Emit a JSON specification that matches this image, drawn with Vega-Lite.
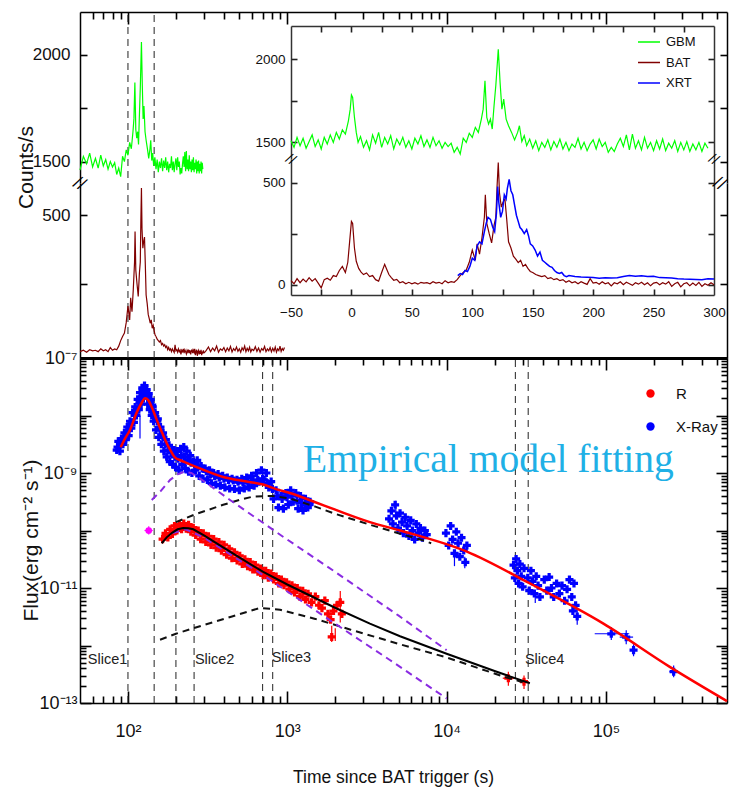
{
"$schema": "https://vega.github.io/schema/vega-lite/v6.json",
"width": 729, "height": 789,
"autosize": {"type": "none"},
"padding": 0,
"background": "white",
"config": {
  "view": {"stroke": null},
  "axis": {"grid": false, "domainColor": "#000", "tickColor": "#000", "tickOpacity": 1, "labelColor": "#111", "titleColor": "#111",
    "labelFont": "Liberation Sans, Arial, sans-serif", "titleFont": "Liberation Sans, Arial, sans-serif",
    "labelFontSize": 17, "titleFontSize": 20, "titleFontWeight": "normal", "labelOverlap": false, "labelFlush": false, "labelBound": false, "tickWidth": 1.6, "domainWidth": 1.5},
  "legend": {"labelFont": "Liberation Sans, Arial, sans-serif", "labelColor": "#111", "padding": 0}
},
"datasets": {
 "gbm": [{"t":-50,"c":1510},{"t":-47.5,"c":1470},{"t":-45,"c":1530},{"t":-42.5,"c":1480},{"t":-40,"c":1525},{"t":-37.5,"c":1465},{"t":-35,"c":1505},{"t":-32.5,"c":1545},{"t":-30,"c":1475},{"t":-27.5,"c":1515},{"t":-25,"c":1460},{"t":-22.5,"c":1530},{"t":-20,"c":1490},{"t":-17.5,"c":1545},{"t":-15,"c":1500},{"t":-12.5,"c":1560},{"t":-10,"c":1520},{"t":-7.5,"c":1575},{"t":-5,"c":1550},{"t":-2.5,"c":1630},{"t":-1,"c":1700},{"t":0,"c":1785},{"t":1,"c":1770},{"t":2.5,"c":1650},{"t":4,"c":1560},{"t":5.5,"c":1500},{"t":7.5,"c":1535},{"t":10,"c":1470},{"t":12.5,"c":1510},{"t":15,"c":1455},{"t":17.5,"c":1545},{"t":20,"c":1495},{"t":22.5,"c":1560},{"t":25,"c":1470},{"t":27.5,"c":1530},{"t":30,"c":1490},{"t":32.5,"c":1540},{"t":35,"c":1460},{"t":37.5,"c":1520},{"t":40,"c":1485},{"t":42.5,"c":1530},{"t":45,"c":1470},{"t":47.5,"c":1510},{"t":50,"c":1460},{"t":52.5,"c":1525},{"t":55,"c":1490},{"t":57.5,"c":1540},{"t":60,"c":1475},{"t":62.5,"c":1515},{"t":65,"c":1470},{"t":67.5,"c":1530},{"t":70,"c":1480},{"t":72.5,"c":1510},{"t":75,"c":1465},{"t":77.5,"c":1500},{"t":80,"c":1475},{"t":82.5,"c":1495},{"t":85,"c":1440},{"t":87.5,"c":1470},{"t":90,"c":1430},{"t":92.5,"c":1525},{"t":95,"c":1500},{"t":97.5,"c":1555},{"t":100,"c":1530},{"t":102.5,"c":1590},{"t":105,"c":1560},{"t":107.5,"c":1640},{"t":109,"c":1700},{"t":110.5,"c":1870},{"t":112,"c":1650},{"t":113.5,"c":1610},{"t":115,"c":1640},{"t":116.5,"c":1580},{"t":118,"c":1720},{"t":119.5,"c":1845},{"t":121.5,"c":2060},{"t":123,"c":1860},{"t":124.5,"c":1700},{"t":126,"c":1760},{"t":128,"c":1640},{"t":130,"c":1600},{"t":132.5,"c":1560},{"t":135,"c":1515},{"t":137.5,"c":1560},{"t":139,"c":1600},{"t":141,"c":1505},{"t":143,"c":1540},{"t":145,"c":1480},{"t":147.5,"c":1520},{"t":150,"c":1465},{"t":152.5,"c":1510},{"t":155,"c":1450},{"t":157.5,"c":1500},{"t":160,"c":1470},{"t":162.5,"c":1515},{"t":165,"c":1455},{"t":167.5,"c":1505},{"t":170,"c":1470},{"t":172.5,"c":1520},{"t":175,"c":1460},{"t":177.5,"c":1500},{"t":180,"c":1450},{"t":182.5,"c":1490},{"t":185,"c":1470},{"t":187.5,"c":1525},{"t":190,"c":1460},{"t":192.5,"c":1500},{"t":195,"c":1450},{"t":197.5,"c":1490},{"t":200,"c":1515},{"t":202.5,"c":1460},{"t":205,"c":1520},{"t":207.5,"c":1475},{"t":210,"c":1500},{"t":212.5,"c":1440},{"t":215,"c":1470},{"t":217.5,"c":1445},{"t":220,"c":1490},{"t":222.5,"c":1525},{"t":225,"c":1475},{"t":227.5,"c":1545},{"t":230,"c":1455},{"t":232.5,"c":1550},{"t":235,"c":1465},{"t":237.5,"c":1510},{"t":240,"c":1455},{"t":242.5,"c":1530},{"t":245,"c":1465},{"t":247.5,"c":1500},{"t":250,"c":1450},{"t":252.5,"c":1510},{"t":255,"c":1460},{"t":257.5,"c":1520},{"t":260,"c":1450},{"t":262.5,"c":1495},{"t":265,"c":1465},{"t":267.5,"c":1510},{"t":270,"c":1445},{"t":272.5,"c":1500},{"t":275,"c":1455},{"t":277.5,"c":1505},{"t":280,"c":1445},{"t":282.5,"c":1490},{"t":285,"c":1455},{"t":287.5,"c":1500},{"t":290,"c":1445},{"t":292.5,"c":1495},{"t":295,"c":1465}],
 "bat": [{"t":-50,"c":20},{"t":-47.5,"c":5},{"t":-45,"c":30},{"t":-42.5,"c":10},{"t":-40,"c":28},{"t":-37.5,"c":14},{"t":-35,"c":35},{"t":-32.5,"c":18},{"t":-30,"c":30},{"t":-27.5,"c":8},{"t":-25,"c":-15},{"t":-22.5,"c":25},{"t":-20,"c":32},{"t":-17.5,"c":22},{"t":-15,"c":45},{"t":-12.5,"c":40},{"t":-10,"c":70},{"t":-7.5,"c":90},{"t":-5,"c":60},{"t":-3,"c":110},{"t":-1.5,"c":210},{"t":0,"c":310},{"t":1,"c":300},{"t":2.5,"c":180},{"t":4,"c":115},{"t":6,"c":80},{"t":8,"c":62},{"t":10,"c":50},{"t":12.5,"c":58},{"t":15,"c":40},{"t":17.5,"c":45},{"t":20,"c":25},{"t":22.5,"c":18},{"t":25,"c":60},{"t":27.5,"c":100},{"t":29,"c":78},{"t":31,"c":50},{"t":33,"c":35},{"t":35,"c":22},{"t":37.5,"c":26},{"t":40,"c":10},{"t":42.5,"c":15},{"t":45,"c":5},{"t":47.5,"c":12},{"t":50,"c":5},{"t":52.5,"c":10},{"t":55,"c":3},{"t":57.5,"c":12},{"t":60,"c":8},{"t":62.5,"c":10},{"t":65,"c":5},{"t":67.5,"c":15},{"t":70,"c":8},{"t":72.5,"c":12},{"t":75,"c":5},{"t":77.5,"c":20},{"t":80,"c":10},{"t":82.5,"c":15},{"t":85,"c":12},{"t":87.5,"c":25},{"t":90,"c":45},{"t":92.5,"c":60},{"t":95,"c":72},{"t":97.5,"c":110},{"t":100,"c":170},{"t":102.5,"c":120},{"t":104,"c":200},{"t":106,"c":150},{"t":108,"c":230},{"t":110,"c":330},{"t":110.8,"c":440},{"t":112,"c":300},{"t":114,"c":250},{"t":116,"c":205},{"t":118,"c":290},{"t":119.5,"c":330},{"t":120.5,"c":480},{"t":121.5,"c":598},{"t":122.5,"c":450},{"t":124,"c":380},{"t":125.5,"c":405},{"t":127,"c":420},{"t":128.5,"c":320},{"t":130,"c":210},{"t":132,"c":180},{"t":134,"c":140},{"t":136,"c":125},{"t":138,"c":108},{"t":140,"c":120},{"t":142,"c":90},{"t":144,"c":100},{"t":146,"c":80},{"t":148,"c":65},{"t":150,"c":60},{"t":152.5,"c":50},{"t":155,"c":45},{"t":157.5,"c":40},{"t":160,"c":45},{"t":162.5,"c":30},{"t":165,"c":35},{"t":167.5,"c":25},{"t":170,"c":30},{"t":172.5,"c":20},{"t":175,"c":25},{"t":177.5,"c":12},{"t":180,"c":20},{"t":182.5,"c":10},{"t":185,"c":15},{"t":187.5,"c":5},{"t":190,"c":15},{"t":192.5,"c":8},{"t":195,"c":2},{"t":197.5,"c":30},{"t":200,"c":8},{"t":202.5,"c":12},{"t":205,"c":3},{"t":207.5,"c":15},{"t":210,"c":5},{"t":212.5,"c":10},{"t":215,"c":-5},{"t":217.5,"c":10},{"t":220,"c":5},{"t":222.5,"c":15},{"t":225,"c":0},{"t":227.5,"c":12},{"t":230,"c":5},{"t":232.5,"c":-3},{"t":235,"c":10},{"t":237.5,"c":3},{"t":240,"c":12},{"t":242.5,"c":0},{"t":245,"c":10},{"t":247.5,"c":-5},{"t":250,"c":8},{"t":252.5,"c":12},{"t":255,"c":0},{"t":257.5,"c":10},{"t":260,"c":3},{"t":262.5,"c":15},{"t":265,"c":-8},{"t":267.5,"c":5},{"t":270,"c":12},{"t":272.5,"c":-10},{"t":275,"c":5},{"t":277.5,"c":10},{"t":280,"c":-5},{"t":282.5,"c":8},{"t":285,"c":-3},{"t":287.5,"c":12},{"t":290,"c":-8},{"t":292.5,"c":5},{"t":295,"c":-2},{"t":297.5,"c":10},{"t":300,"c":0}],
 "batl": [{"t":300,"c":0},{"t":310,"c":10},{"t":320,"c":22},{"t":330,"c":5},{"t":340,"c":18},{"t":350,"c":8},{"t":360,"c":25},{"t":370,"c":3},{"t":380,"c":15},{"t":390,"c":10},{"t":400,"c":20},{"t":410,"c":5},{"t":420,"c":18},{"t":430,"c":8},{"t":440,"c":24},{"t":450,"c":4},{"t":460,"c":16},{"t":470,"c":9},{"t":480,"c":22},{"t":490,"c":6},{"t":500,"c":15},{"t":510,"c":3},{"t":520,"c":19},{"t":530,"c":10},{"t":540,"c":25},{"t":550,"c":5},{"t":560,"c":17},{"t":570,"c":8},{"t":580,"c":21},{"t":590,"c":4},{"t":600,"c":14},{"t":615,"c":9},{"t":630,"c":23},{"t":645,"c":6},{"t":660,"c":18},{"t":675,"c":3},{"t":690,"c":16},{"t":705,"c":10},{"t":720,"c":24},{"t":735,"c":5},{"t":750,"c":15},{"t":765,"c":8},{"t":780,"c":20},{"t":795,"c":4},{"t":810,"c":17},{"t":825,"c":7},{"t":840,"c":22},{"t":855,"c":3},{"t":870,"c":15},{"t":885,"c":9},{"t":900,"c":25},{"t":915,"c":6},{"t":930,"c":16},{"t":945,"c":10},{"t":960,"c":20}],
 "xrt": [{"t":88,"c":45},{"t":90,"c":55},{"t":92,"c":50},{"t":94,"c":70},{"t":96,"c":65},{"t":98,"c":90},{"t":100,"c":130},{"t":102,"c":120},{"t":104,"c":190},{"t":106,"c":210},{"t":108,"c":200},{"t":110,"c":260},{"t":111.5,"c":300},{"t":113,"c":330},{"t":115,"c":320},{"t":117,"c":280},{"t":118.5,"c":260},{"t":120,"c":350},{"t":121,"c":480},{"t":122,"c":400},{"t":123.5,"c":330},{"t":125,"c":360},{"t":126.5,"c":440},{"t":128,"c":420},{"t":129,"c":470},{"t":130.5,"c":515},{"t":132,"c":460},{"t":133.5,"c":440},{"t":135,"c":390},{"t":136.5,"c":340},{"t":138,"c":310},{"t":139.5,"c":280},{"t":141,"c":270},{"t":143,"c":250},{"t":145,"c":270},{"t":146.5,"c":240},{"t":148,"c":200},{"t":150,"c":190},{"t":152,"c":170},{"t":154,"c":140},{"t":156,"c":160},{"t":158,"c":120},{"t":160,"c":110},{"t":162,"c":100},{"t":164,"c":90},{"t":166,"c":85},{"t":168,"c":70},{"t":170,"c":60},{"t":172,"c":55},{"t":174,"c":60},{"t":176,"c":45},{"t":178,"c":40},{"t":180,"c":45},{"t":185,"c":40},{"t":190,"c":38},{"t":195,"c":37},{"t":200,"c":36},{"t":205,"c":32},{"t":210,"c":34},{"t":215,"c":33},{"t":220,"c":34},{"t":225,"c":40},{"t":230,"c":45},{"t":235,"c":42},{"t":240,"c":44},{"t":245,"c":40},{"t":250,"c":42},{"t":255,"c":35},{"t":260,"c":34},{"t":265,"c":33},{"t":270,"c":30},{"t":275,"c":28},{"t":280,"c":27},{"t":285,"c":26},{"t":290,"c":25},{"t":295,"c":30},{"t":300,"c":28}],
 "brkmain": [{"t":50,"c":1400},{"t":520000,"c":1400}],
 "brkins": [{"t":-50,"c":1400},{"t":300,"c":1400}],
 "vtop": [{"t":100},{"t":146}],
 "vbot": [{"t":100},{"t":146},{"t":200},{"t":260},{"t":700},{"t":810},{"t":27000},{"t":32500}],
 "lc": [
  {"t":85,"f":2.51e-9,"s":"X-Ray"},{"t":87,"f":3.55e-9,"s":"X-Ray"},{"t":89,"f":2.40e-9,"s":"X-Ray"},{"t":91,"f":3.98e-9,"s":"X-Ray"},{"t":93,"f":3.16e-9,"s":"X-Ray"},{"t":95,"f":5.01e-9,"s":"X-Ray"},{"t":97,"f":3.80e-9,"s":"X-Ray"},{"t":99,"f":6.31e-9,"s":"X-Ray"},{"t":101,"f":4.47e-9,"s":"X-Ray"},{"t":103,"f":7.94e-9,"s":"X-Ray"},{"t":105,"f":6.03e-9,"s":"X-Ray"},{"t":107,"f":1.12e-8,"s":"X-Ray"},{"t":109,"f":7.59e-9,"s":"X-Ray"},{"t":111,"f":1.41e-8,"s":"X-Ray"},{"t":113,"f":1.0e-8,"s":"X-Ray"},{"t":115,"f":1.91e-8,"s":"X-Ray"},{"t":117,"f":1.26e-8,"s":"X-Ray"},{"t":119,"f":2.51e-8,"s":"X-Ray"},{"t":121,"f":1.58e-8,"s":"X-Ray"},{"t":123,"f":3.02e-8,"s":"X-Ray"},{"t":125,"f":2.0e-8,"s":"X-Ray"},{"t":127,"f":3.31e-8,"s":"X-Ray"},{"t":129,"f":2.24e-8,"s":"X-Ray"},{"t":131,"f":2.82e-8,"s":"X-Ray"},{"t":133,"f":1.58e-8,"s":"X-Ray"},{"t":135,"f":2.40e-8,"s":"X-Ray"},{"t":137,"f":1.26e-8,"s":"X-Ray"},{"t":139,"f":1.91e-8,"s":"X-Ray"},{"t":141,"f":1.0e-8,"s":"X-Ray"},{"t":143,"f":1.41e-8,"s":"X-Ray"},{"t":145,"f":7.94e-9,"s":"X-Ray"},{"t":147,"f":1.05e-8,"s":"X-Ray"},{"t":150,"f":5.62e-9,"s":"X-Ray"},{"t":153,"f":7.94e-9,"s":"X-Ray"},{"t":156,"f":4.17e-9,"s":"X-Ray"},{"t":159,"f":5.62e-9,"s":"X-Ray"},{"t":162,"f":3.16e-9,"s":"X-Ray"},{"t":165,"f":4.47e-9,"s":"X-Ray"},{"t":168,"f":2.40e-9,"s":"X-Ray"},{"t":171,"f":3.16e-9,"s":"X-Ray"},{"t":175,"f":1.91e-9,"s":"X-Ray"},{"t":179,"f":2.51e-9,"s":"X-Ray"},{"t":183,"f":1.58e-9,"s":"X-Ray"},{"t":187,"f":2.24e-9,"s":"X-Ray"},{"t":191,"f":1.41e-9,"s":"X-Ray"},{"t":195,"f":2.51e-9,"s":"X-Ray"},{"t":199,"f":1.26e-9,"s":"X-Ray"},{"t":204,"f":2.40e-9,"s":"X-Ray"},{"t":209,"f":1.12e-9,"s":"X-Ray"},{"t":214,"f":2.63e-9,"s":"X-Ray"},{"t":219,"f":1.41e-9,"s":"X-Ray"},{"t":224,"f":2.82e-9,"s":"X-Ray"},{"t":229,"f":1.20e-9,"s":"X-Ray"},{"t":234,"f":2.40e-9,"s":"X-Ray"},{"t":240,"f":1.05e-9,"s":"X-Ray"},{"t":246,"f":2.0e-9,"s":"X-Ray"},{"t":252,"f":1.0e-9,"s":"X-Ray"},{"t":258,"f":1.58e-9,"s":"X-Ray"},{"t":265,"f":1.12e-9,"s":"X-Ray"},{"t":272,"f":1.66e-9,"s":"X-Ray"},{"t":280,"f":8.91e-10,"s":"X-Ray"},{"t":288,"f":1.32e-9,"s":"X-Ray"},{"t":296,"f":7.94e-10,"s":"X-Ray"},{"t":305,"f":1.20e-9,"s":"X-Ray"},{"t":315,"f":7.59e-10,"s":"X-Ray"},{"t":325,"f":1.12e-9,"s":"X-Ray"},{"t":335,"f":6.61e-10,"s":"X-Ray"},{"t":345,"f":1.0e-9,"s":"X-Ray"},{"t":356,"f":6.31e-10,"s":"X-Ray"},{"t":368,"f":9.55e-10,"s":"X-Ray"},{"t":380,"f":6.03e-10,"s":"X-Ray"},{"t":393,"f":8.91e-10,"s":"X-Ray"},{"t":406,"f":5.62e-10,"s":"X-Ray"},{"t":420,"f":8.32e-10,"s":"X-Ray"},{"t":435,"f":5.37e-10,"s":"X-Ray"},{"t":450,"f":7.94e-10,"s":"X-Ray"},{"t":466,"f":5.25e-10,"s":"X-Ray"},{"t":483,"f":7.59e-10,"s":"X-Ray"},{"t":500,"f":5.01e-10,"s":"X-Ray"},{"t":518,"f":7.94e-10,"s":"X-Ray"},{"t":537,"f":5.37e-10,"s":"X-Ray"},{"t":556,"f":8.32e-10,"s":"X-Ray"},{"t":576,"f":5.62e-10,"s":"X-Ray"},{"t":597,"f":8.91e-10,"s":"X-Ray"},{"t":619,"f":6.03e-10,"s":"X-Ray"},{"t":641,"f":1.0e-9,"s":"X-Ray"},{"t":664,"f":7.08e-10,"s":"X-Ray"},{"t":688,"f":1.12e-9,"s":"X-Ray"},{"t":713,"f":7.59e-10,"s":"X-Ray"},{"t":739,"f":1.0e-9,"s":"X-Ray"},{"t":765,"f":5.62e-10,"s":"X-Ray"},{"t":792,"f":7.08e-10,"s":"X-Ray"},{"t":820,"f":3.55e-10,"s":"X-Ray"},{"t":850,"f":5.01e-10,"s":"X-Ray"},{"t":880,"f":2.51e-10,"s":"X-Ray"},{"t":912,"f":3.98e-10,"s":"X-Ray"},{"t":945,"f":2.40e-10,"s":"X-Ray"},{"t":980,"f":4.47e-10,"s":"X-Ray"},{"t":1015,"f":2.82e-10,"s":"X-Ray"},{"t":1050,"f":5.01e-10,"s":"X-Ray"},{"t":1090,"f":3.16e-10,"s":"X-Ray"},{"t":1130,"f":4.47e-10,"s":"X-Ray"},{"t":1170,"f":2.40e-10,"s":"X-Ray"},{"t":1210,"f":3.98e-10,"s":"X-Ray"},{"t":1255,"f":2.24e-10,"s":"X-Ray"},{"t":1300,"f":3.55e-10,"s":"X-Ray"},{"t":1345,"f":2.51e-10,"s":"X-Ray"},{"t":1390,"f":3.16e-10,"s":"X-Ray"},
  {"t":86,"f":2.82e-9,"s":"X-Ray"},{"t":90,"f":3.16e-9,"s":"X-Ray"},{"t":94,"f":3.98e-9,"s":"X-Ray"},{"t":98,"f":4.79e-9,"s":"X-Ray"},{"t":102,"f":6.03e-9,"s":"X-Ray"},{"t":106,"f":7.59e-9,"s":"X-Ray"},{"t":110,"f":1.0e-8,"s":"X-Ray"},{"t":114,"f":1.26e-8,"s":"X-Ray"},{"t":118,"f":1.66e-8,"s":"X-Ray"},{"t":122,"f":2.09e-8,"s":"X-Ray"},{"t":126,"f":2.51e-8,"s":"X-Ray"},{"t":130,"f":2.40e-8,"s":"X-Ray"},{"t":134,"f":2.19e-8,"s":"X-Ray"},{"t":138,"f":1.78e-8,"s":"X-Ray"},{"t":142,"f":1.51e-8,"s":"X-Ray"},{"t":148,"f":1.12e-8,"s":"X-Ray"},{"t":154,"f":8.71e-9,"s":"X-Ray"},{"t":160,"f":6.31e-9,"s":"X-Ray"},{"t":166,"f":5.01e-9,"s":"X-Ray"},{"t":173,"f":3.80e-9,"s":"X-Ray"},{"t":181,"f":3.02e-9,"s":"X-Ray"},{"t":189,"f":2.40e-9,"s":"X-Ray"},{"t":197,"f":1.91e-9,"s":"X-Ray"},{"t":206,"f":1.78e-9,"s":"X-Ray"},{"t":216,"f":2.0e-9,"s":"X-Ray"},{"t":226,"f":1.91e-9,"s":"X-Ray"},{"t":237,"f":1.66e-9,"s":"X-Ray"},{"t":249,"f":1.51e-9,"s":"X-Ray"},{"t":262,"f":1.41e-9,"s":"X-Ray"},{"t":276,"f":1.32e-9,"s":"X-Ray"},{"t":292,"f":1.20e-9,"s":"X-Ray"},{"t":310,"f":1.07e-9,"s":"X-Ray"},{"t":330,"f":9.55e-10,"s":"X-Ray"},{"t":350,"f":8.91e-10,"s":"X-Ray"},{"t":374,"f":8.32e-10,"s":"X-Ray"},{"t":400,"f":7.94e-10,"s":"X-Ray"},{"t":428,"f":7.59e-10,"s":"X-Ray"},{"t":458,"f":7.41e-10,"s":"X-Ray"},{"t":491,"f":7.08e-10,"s":"X-Ray"},{"t":527,"f":6.76e-10,"s":"X-Ray"},{"t":566,"f":6.92e-10,"s":"X-Ray"},{"t":608,"f":7.24e-10,"s":"X-Ray"},{"t":652,"f":7.59e-10,"s":"X-Ray"},{"t":700,"f":7.94e-10,"s":"X-Ray"},{"t":752,"f":6.61e-10,"s":"X-Ray"},{"t":806,"f":5.25e-10,"s":"X-Ray"},{"t":865,"f":3.98e-10,"s":"X-Ray"},{"t":928,"f":3.55e-10,"s":"X-Ray"},{"t":997,"f":3.80e-10,"s":"X-Ray"},{"t":1070,"f":3.98e-10,"s":"X-Ray"},{"t":1150,"f":3.31e-10,"s":"X-Ray"},{"t":1230,"f":3.02e-10,"s":"X-Ray"},{"t":1320,"f":2.82e-10,"s":"X-Ray"},{"t":1380,"f":2.82e-10,"s":"X-Ray"},
  {"t":4350,"f":1.6e-10,"s":"X-Ray"},{"t":4500,"f":2.2e-10,"s":"X-Ray"},{"t":4600,"f":1.3e-10,"s":"X-Ray"},{"t":4750,"f":2.8e-10,"s":"X-Ray"},{"t":4850,"f":1.8e-10,"s":"X-Ray"},{"t":4950,"f":1.1e-10,"s":"X-Ray"},{"t":5100,"f":2.0e-10,"s":"X-Ray"},{"t":5250,"f":1.4e-10,"s":"X-Ray"},{"t":5350,"f":9.0e-11,"s":"X-Ray"},{"t":5500,"f":1.7e-10,"s":"X-Ray"},{"t":5650,"f":1.2e-10,"s":"X-Ray"},{"t":5800,"f":8.0e-11,"s":"X-Ray"},{"t":5950,"f":1.5e-10,"s":"X-Ray"},{"t":6100,"f":1.0e-10,"s":"X-Ray"},{"t":6300,"f":7.0e-11,"s":"X-Ray"},{"t":6450,"f":1.3e-10,"s":"X-Ray"},{"t":6650,"f":9.0e-11,"s":"X-Ray"},{"t":6850,"f":1.1e-10,"s":"X-Ray"},{"t":7050,"f":7.5e-11,"s":"X-Ray"},{"t":7300,"f":1.0e-10,"s":"X-Ray"},{"t":7500,"f":8.5e-11,"s":"X-Ray"},
  {"t":9900,"f":9.0e-11,"s":"X-Ray"},{"t":10300,"f":5.5e-11,"s":"X-Ray"},{"t":10600,"f":1.2e-10,"s":"X-Ray"},{"t":10900,"f":7.0e-11,"s":"X-Ray"},{"t":11200,"f":4.0e-11,"s":"X-Ray"},{"t":11500,"f":9.5e-11,"s":"X-Ray"},{"t":11800,"f":6.0e-11,"s":"X-Ray"},{"t":12100,"f":3.5e-11,"s":"X-Ray"},{"t":12400,"f":7.5e-11,"s":"X-Ray"},{"t":12800,"f":4.5e-11,"s":"X-Ray"},{"t":13100,"f":2.8e-11,"s":"X-Ray"},{"t":13400,"f":5.5e-11,"s":"X-Ray"},
  {"t":26300,"f":2.5e-11,"s":"X-Ray"},{"t":26800,"f":1.5e-11,"s":"X-Ray"},{"t":27300,"f":3.2e-11,"s":"X-Ray"},{"t":27800,"f":2.0e-11,"s":"X-Ray"},{"t":28300,"f":1.2e-11,"s":"X-Ray"},{"t":28800,"f":2.6e-11,"s":"X-Ray"},{"t":29400,"f":1.6e-11,"s":"X-Ray"},{"t":30000,"f":1.05e-11,"s":"X-Ray"},{"t":30600,"f":2.2e-11,"s":"X-Ray"},
  {"t":32300,"f":1.5e-11,"s":"X-Ray"},{"t":33000,"f":9.0e-12,"s":"X-Ray"},{"t":33800,"f":2.0e-11,"s":"X-Ray"},{"t":34600,"f":1.3e-11,"s":"X-Ray"},{"t":35500,"f":8.0e-12,"s":"X-Ray"},{"t":36500,"f":1.6e-11,"s":"X-Ray"},{"t":37500,"f":1.1e-11,"s":"X-Ray"},{"t":38500,"f":7.0e-12,"s":"X-Ray"},
  {"t":41000,"f":1.4e-11,"s":"X-Ray"},{"t":42500,"f":9.0e-12,"s":"X-Ray"},{"t":44000,"f":1.55e-11,"s":"X-Ray"},{"t":45500,"f":1.0e-11,"s":"X-Ray"},{"t":47000,"f":7.0e-12,"s":"X-Ray"},{"t":49000,"f":1.2e-11,"s":"X-Ray"},{"t":51000,"f":8.0e-12,"s":"X-Ray"},{"t":53000,"f":1.1e-11,"s":"X-Ray"},{"t":55000,"f":6.0e-12,"s":"X-Ray"},{"t":57000,"f":9.5e-12,"s":"X-Ray"},{"t":59000,"f":1.4e-11,"s":"X-Ray"},{"t":61000,"f":7.0e-12,"s":"X-Ray"},{"t":62000,"f":4.0e-12,"s":"X-Ray"},{"t":63000,"f":1.2e-11,"s":"X-Ray"},{"t":64500,"f":5.0e-12,"s":"X-Ray"},{"t":66000,"f":3.2e-12,"s":"X-Ray"},
  {"t":108000,"f":1.6e-12,"s":"X-Ray"},{"t":134000,"f":1.4e-12,"s":"X-Ray"},{"t":149000,"f":8.3e-13,"s":"X-Ray"},{"t":266000,"f":3.5e-13,"s":"X-Ray"},
  {"t":165,"f":7.08e-11,"s":"R"},{"t":172,"f":8.91e-11,"s":"R"},{"t":178,"f":7.59e-11,"s":"R"},{"t":184,"f":1.05e-10,"s":"R"},{"t":190,"f":8.71e-11,"s":"R"},{"t":196,"f":1.20e-10,"s":"R"},{"t":203,"f":1.00e-10,"s":"R"},{"t":210,"f":1.26e-10,"s":"R"},{"t":217,"f":1.05e-10,"s":"R"},{"t":224,"f":1.32e-10,"s":"R"},{"t":232,"f":1.07e-10,"s":"R"},{"t":240,"f":1.26e-10,"s":"R"},{"t":248,"f":9.55e-11,"s":"R"},{"t":257,"f":1.12e-10,"s":"R"},{"t":266,"f":8.32e-11,"s":"R"},{"t":276,"f":1.00e-10,"s":"R"},{"t":286,"f":7.08e-11,"s":"R"},{"t":297,"f":8.91e-11,"s":"R"},{"t":308,"f":6.31e-11,"s":"R"},{"t":320,"f":7.94e-11,"s":"R"},{"t":332,"f":5.62e-11,"s":"R"},{"t":345,"f":7.08e-11,"s":"R"},{"t":358,"f":5.01e-11,"s":"R"},{"t":372,"f":6.31e-11,"s":"R"},{"t":386,"f":4.47e-11,"s":"R"},{"t":401,"f":5.62e-11,"s":"R"},{"t":416,"f":3.80e-11,"s":"R"},{"t":432,"f":4.79e-11,"s":"R"},{"t":449,"f":3.31e-11,"s":"R"},{"t":466,"f":4.17e-11,"s":"R"},{"t":484,"f":3.02e-11,"s":"R"},{"t":503,"f":3.63e-11,"s":"R"},{"t":522,"f":2.63e-11,"s":"R"},{"t":542,"f":3.16e-11,"s":"R"},{"t":563,"f":2.40e-11,"s":"R"},{"t":585,"f":2.82e-11,"s":"R"},{"t":607,"f":2.09e-11,"s":"R"},{"t":630,"f":2.51e-11,"s":"R"},{"t":654,"f":1.91e-11,"s":"R"},{"t":679,"f":2.19e-11,"s":"R"},{"t":705,"f":1.66e-11,"s":"R"},{"t":732,"f":2.00e-11,"s":"R"},{"t":760,"f":1.51e-11,"s":"R"},{"t":789,"f":1.78e-11,"s":"R"},{"t":820,"f":1.41e-11,"s":"R"},{"t":851,"f":1.58e-11,"s":"R"},{"t":884,"f":1.20e-11,"s":"R"},{"t":918,"f":1.41e-11,"s":"R"},{"t":953,"f":1.12e-11,"s":"R"},{"t":990,"f":1.26e-11,"s":"R"},{"t":1030,"f":9.55e-12,"s":"R"},{"t":1070,"f":1.12e-11,"s":"R"},{"t":1110,"f":8.32e-12,"s":"R"},{"t":1155,"f":1.00e-11,"s":"R"},{"t":1200,"f":7.08e-12,"s":"R"},{"t":1250,"f":8.91e-12,"s":"R"},{"t":1300,"f":6.31e-12,"s":"R"},{"t":1350,"f":7.94e-12,"s":"R"},{"t":1420,"f":5.62e-12,"s":"R"},{"t":1500,"f":7.08e-12,"s":"R"},{"t":1580,"f":5.01e-12,"s":"R"},{"t":1650,"f":4.47e-12,"s":"R"},{"t":1720,"f":6.03e-12,"s":"R"},{"t":1800,"f":3.55e-12,"s":"R"},{"t":1870,"f":2.82e-12,"s":"R"},{"t":1900,"f":1.41e-12,"s":"R"},{"t":1950,"f":3.98e-12,"s":"R"},{"t":2050,"f":5.01e-12,"s":"R"},{"t":2150,"f":5.62e-12,"s":"R"},{"t":2200,"f":3.55e-12,"s":"R"},{"t":24400,"f":2.7e-13,"s":"R"},{"t":30600,"f":2.35e-13,"s":"R"}
 ],
 "err": [{"t":119,"lo":4.0e-9,"hi":1.0e-8,"s":"X-Ray"},{"t":108000,"lo":1.25e-12,"hi":2.1e-12,"s":"X-Ray"},{"t":134000,"lo":1.05e-12,"hi":1.85e-12,"s":"X-Ray"},{"t":149000,"lo":6.5e-13,"hi":1.05e-12,"s":"X-Ray"},{"t":266000,"lo":2.8e-13,"hi":4.5e-13,"s":"X-Ray"},{"t":66000,"lo":2.3e-12,"hi":4.5e-12,"s":"X-Ray"},{"t":13000,"lo":2.2e-11,"hi":3.5e-11,"s":"X-Ray"},{"t":11200,"lo":2.4e-11,"hi":4.5e-11,"s":"X-Ray"},{"t":4800,"lo":2.0e-10,"hi":3.3e-10,"s":"X-Ray"},{"t":36000,"lo":5.5e-12,"hi":9e-12,"s":"X-Ray"},{"t":24400,"lo":2.0e-13,"hi":3.5e-13,"s":"R"},{"t":30600,"lo":1.75e-13,"hi":3.0e-13,"s":"R"},{"t":1900,"lo":1.15e-12,"hi":2.2e-12,"s":"R"},{"t":2000,"lo":1.2e-12,"hi":2.0e-12,"s":"R"},{"t":2150,"lo":2.5e-12,"hi":8.9e-12,"s":"R"},{"t":135,"lo":8.5e-11,"hi":1.18e-10,"s":"M"}],
 "xerr": [{"f":1.6e-12,"tlo":85000,"thi":140000,"s":"X-Ray"},{"f":1.4e-12,"tlo":122000,"thi":148000,"s":"X-Ray"},{"f":8.3e-13,"tlo":143000,"thi":156000,"s":"X-Ray"},{"f":3.5e-13,"tlo":250000,"thi":282000,"s":"X-Ray"},{"f":2.7e-13,"tlo":22500,"thi":26500,"s":"R"},{"f":2.35e-13,"tlo":28500,"thi":32800,"s":"R"},{"f":1.0e-10,"tlo":127,"thi":143,"s":"M"}],
 "mag": [{"t":135,"f":1.0e-10}],
 "fit": [
  {"m":"tot","t":90,"f":2.8e-9},{"m":"tot","t":96,"f":4.0e-9},{"m":"tot","t":103,"f":5.6e-9},{"m":"tot","t":113,"f":1.1e-8},{"m":"tot","t":121,"f":1.6e-8},{"m":"tot","t":128,"f":2.0e-8},{"m":"tot","t":134,"f":1.85e-8},{"m":"tot","t":141,"f":1.4e-8},{"m":"tot","t":148,"f":1.0e-8},{"m":"tot","t":155,"f":7.2e-9},{"m":"tot","t":165,"f":4.8e-9},{"m":"tot","t":175,"f":3.3e-9},{"m":"tot","t":186,"f":2.4e-9},{"m":"tot","t":197,"f":1.87e-9},{"m":"tot","t":215,"f":1.65e-9},{"m":"tot","t":233,"f":1.5e-9},{"m":"tot","t":283,"f":1.2e-9},{"m":"tot","t":396,"f":8.5e-10},{"m":"tot","t":556,"f":7.1e-10},{"m":"tot","t":706,"f":6.3e-10},{"m":"tot","t":857,"f":5.2e-10},{"m":"tot","t":1040,"f":4.5e-10},{"m":"tot","t":1500,"f":3.1e-10},{"m":"tot","t":2000,"f":2.3e-10},{"m":"tot","t":3300,"f":1.4e-10},{"m":"tot","t":5100,"f":1.0e-10},{"m":"tot","t":13400,"f":4.3e-11},{"m":"tot","t":33300,"f":1.2e-11},{"m":"tot","t":96400,"f":2.4e-12},{"m":"tot","t":250000,"f":4.3e-13},{"m":"tot","t":575000,"f":1.08e-13},
  {"m":"opt","t":163,"f":6.0e-11},{"m":"opt","t":175,"f":7.6e-11},{"m":"opt","t":190,"f":9.2e-11},{"m":"opt","t":205,"f":1.05e-10},{"m":"opt","t":222,"f":1.1e-10},{"m":"opt","t":240,"f":1.09e-10},{"m":"opt","t":257,"f":1.05e-10},{"m":"opt","t":300,"f":8.2e-11},{"m":"opt","t":350,"f":6.3e-11},{"m":"opt","t":500,"f":3.4e-11},{"m":"opt","t":706,"f":1.9e-11},{"m":"opt","t":1000,"f":1.15e-11},{"m":"opt","t":2040,"f":4.4e-12},{"m":"opt","t":3300,"f":2.4e-12},{"m":"opt","t":5100,"f":1.45e-12},{"m":"opt","t":10000,"f":7.2e-13},{"m":"opt","t":20000,"f":3.6e-13},{"m":"opt","t":33300,"f":2.2e-13},
  {"m":"x2","t":200,"f":1.4e-10},{"m":"x2","t":263,"f":1.9e-10},{"m":"x2","t":396,"f":2.8e-10},{"m":"x2","t":500,"f":3.4e-10},{"m":"x2","t":611,"f":3.9e-10},{"m":"x2","t":800,"f":4.0e-10},{"m":"x2","t":1040,"f":3.6e-10},{"m":"x2","t":1500,"f":2.6e-10},{"m":"x2","t":2000,"f":1.95e-10},{"m":"x2","t":3300,"f":1.26e-10},{"m":"x2","t":7000,"f":6.8e-11},{"m":"x2","t":8000,"f":6.0e-11},
  {"m":"o2","t":159,"f":1.26e-12},{"m":"o2","t":200,"f":1.6e-12},{"m":"o2","t":257,"f":2.0e-12},{"m":"o2","t":450,"f":3.2e-12},{"m":"o2","t":673,"f":4.5e-12},{"m":"o2","t":900,"f":4.2e-12},{"m":"o2","t":1500,"f":2.9e-12},{"m":"o2","t":2470,"f":1.9e-12},{"m":"o2","t":5100,"f":1.05e-12},{"m":"o2","t":10000,"f":6.2e-13},{"m":"o2","t":22600,"f":2.9e-13},{"m":"o2","t":30000,"f":2.3e-13},
  {"m":"x1","t":141,"f":3.4e-10},{"m":"x1","t":160,"f":4.8e-10},{"m":"x1","t":184,"f":7.6e-10},{"m":"x1","t":205,"f":9.5e-10},{"m":"x1","t":225,"f":1.05e-9},{"m":"x1","t":250,"f":1.0e-9},{"m":"x1","t":300,"f":7.2e-10},{"m":"x1","t":437,"f":3.4e-10},{"m":"x1","t":940,"f":7.8e-11},{"m":"x1","t":2000,"f":1.9e-11},{"m":"x1","t":5000,"f":3.3e-12},{"m":"x1","t":10000,"f":8.3e-13},
  {"m":"o1","t":190,"f":9.0e-11},{"m":"o1","t":230,"f":1.05e-10},{"m":"o1","t":300,"f":7.5e-11},{"m":"o1","t":400,"f":4.5e-11},{"m":"o1","t":700,"f":1.7e-11},{"m":"o1","t":1000,"f":8.7e-12},{"m":"o1","t":2040,"f":2.3e-12},{"m":"o1","t":4400,"f":5.6e-13},{"m":"o1","t":10000,"f":1.2e-13}
 ],
 "slices": [{"t":56,"f":5.6e-13,"txt":"Slice1"},{"t":263,"f":5.6e-13,"txt":"Slice2"},{"t":798,"f":6.0e-13,"txt":"Slice3"},{"t":31000,"f":5.6e-13,"txt":"Slice4"}],
 "emp": [{"t":1256,"f":1.05e-9,"txt":"Empirical model fitting"}]
},
"resolve": {"scale": {"x": "independent", "y": "independent", "color": "independent"}, "axis": {"x": "independent", "y": "independent"}, "legend": {"color": "independent"}},
"layer": [
 {"data": {"name": "vtop"}, "mark": {"type": "rule", "color": "#222", "strokeDash": [7, 5], "strokeWidth": 1},
  "encoding": {
   "x": {"field": "t", "type": "quantitative", "scale": {"type": "log", "domain": [50, 575000], "rangeMin": 80, "rangeMax": 727, "nice": false}, "axis": null},
   "y": {"datum": 0, "type": "quantitative", "scale": {"domain": [0, 1], "rangeMin": 358, "rangeMax": 12, "nice": false}, "axis": null},
   "y2": {"datum": 1}}},
 {"data": {"name": "gbm"}, "transform": [{"filter": "datum.t >= 50"}], "mark": {"type": "line", "color": "#00ff00", "strokeWidth": 1.2},
  "encoding": {
   "x": {"field": "t", "type": "quantitative", "scale": {"type": "log", "domain": [50, 575000], "rangeMin": 80, "rangeMax": 727, "nice": false},
     "axis": {"orient": "bottom", "offset": -777, "values": [100, 1000, 10000, 100000], "labels": false, "ticks": true, "tickSize": 12, "tickColor": "#000", "tickWidth": 1.6, "title": null}},
   "y": {"field": "c", "type": "quantitative", "scale": {"domain": [1400, 2200], "rangeMin": 183, "rangeMax": 12, "nice": false, "zero": false},
     "axis": {"orient": "left", "offset": -80, "values": [1500, 2000], "format": "d", "ticks": false, "labelPadding": 10, "labelFontSize": 17,
       "title": "Counts/s", "titleX": -44, "titleY": 167, "titleAngle": -90, "titleAlign": "center", "titleBaseline": "bottom", "titleFontSize": 21}}}},
 {"data": {"name": "bat"}, "transform": [{"filter": "datum.t >= 50 && datum.t <= 150"}], "mark": {"type": "line", "color": "#800000", "strokeWidth": 1.2},
  "encoding": {
   "x": {"field": "t", "type": "quantitative", "scale": {"type": "log", "domain": [50, 575000], "rangeMin": 80, "rangeMax": 727, "nice": false},
     "axis": {"orient": "bottom", "offset": -777, "values": [60,70,80,90,200,300,400,500,600,700,800,900,2000,3000,4000,5000,6000,7000,8000,9000,20000,30000,40000,50000,60000,70000,80000,90000,200000,300000,400000,500000], "labels": false, "ticks": true, "tickSize": 7, "tickColor": "#000", "tickWidth": 1.6, "domain": false, "title": null}},
   "y": {"field": "c", "type": "quantitative", "scale": {"domain": [-18, 616], "rangeMin": 358, "rangeMax": 183, "nice": false, "zero": false},
     "axis": {"orient": "left", "offset": -80, "values": [500], "ticks": false, "labelPadding": 10, "labelFontSize": 17, "title": null}}}},
 {"data": {"name": "bat"}, "transform": [{"filter": "datum.t >= 150"}], "mark": {"type": "line", "color": "#800000", "strokeWidth": 1.2},
  "encoding": {
   "x": {"field": "t", "type": "quantitative", "scale": {"type": "log", "domain": [50, 575000], "rangeMin": 80, "rangeMax": 727, "nice": false}, "axis": null},
   "y": {"field": "c", "type": "quantitative", "scale": {"domain": [-18, 616], "rangeMin": 358, "rangeMax": 183, "nice": false, "zero": false},
     "axis": {"orient": "right", "offset": -649, "values": [250, 500], "labels": false, "ticks": true, "tickSize": 7, "tickColor": "#000", "tickWidth": 1.6, "domain": false, "title": null}}}},
 {"data": {"name": "batl"}, "mark": {"type": "line", "color": "#800000", "strokeWidth": 1.2},
  "encoding": {
   "x": {"field": "t", "type": "quantitative", "scale": {"type": "log", "domain": [50, 575000], "rangeMin": 80, "rangeMax": 727, "nice": false}, "axis": null},
   "y": {"field": "c", "type": "quantitative", "scale": {"domain": [-18, 616], "rangeMin": 358, "rangeMax": 183, "nice": false, "zero": false},
     "axis": {"orient": "left", "offset": -727, "values": [250, 500], "labels": false, "ticks": true, "tickSize": 7, "tickColor": "#000", "tickWidth": 1.6, "title": null}}}},
 {"data": {"name": "brkmain"}, "transform": [{"filter": "datum.t < 1000"}], "mark": {"type": "text", "text": "//", "fontSize": 16, "angle": 30, "align": "center", "baseline": "middle", "font": "DejaVu Sans", "color": "#000"},
  "encoding": {
   "x": {"field": "t", "type": "quantitative", "scale": {"type": "log", "domain": [50, 575000], "rangeMin": 80, "rangeMax": 727, "nice": false}, "axis": null},
   "y": {"field": "c", "type": "quantitative", "scale": {"domain": [1400, 2200], "rangeMin": 183, "rangeMax": 12, "nice": false, "zero": false},
     "axis": {"orient": "right", "offset": -649, "values": [1500, 1750, 2000], "labels": false, "ticks": true, "tickSize": 7, "tickColor": "#000", "tickWidth": 1.6, "domain": false, "title": null}}}},
 {"data": {"name": "brkmain"}, "transform": [{"filter": "datum.t > 1000"}], "mark": {"type": "text", "text": "//", "fontSize": 16, "angle": 30, "align": "center", "baseline": "middle", "font": "DejaVu Sans", "color": "#000"},
  "encoding": {
   "x": {"field": "t", "type": "quantitative", "scale": {"type": "log", "domain": [50, 575000], "rangeMin": 80, "rangeMax": 727, "nice": false}, "axis": null},
   "y": {"field": "c", "type": "quantitative", "scale": {"domain": [1400, 2200], "rangeMin": 183, "rangeMax": 12, "nice": false, "zero": false},
     "axis": {"orient": "left", "offset": -727, "values": [1500, 1750, 2000], "labels": false, "ticks": true, "tickSize": 7, "tickColor": "#000", "tickWidth": 1.6, "title": null}}}},
 {"data": {"name": "gbm"}, "mark": {"type": "line", "color": "#00ff00", "strokeWidth": 1.2},
  "encoding": {
   "x": {"field": "t", "type": "quantitative", "scale": {"domain": [-50, 300], "rangeMin": 291, "rangeMax": 714, "nice": false, "zero": false},
     "axis": {"orient": "bottom", "offset": -494, "values": [-50, 0, 50, 100, 150, 200, 250, 300], "ticks": false, "labelPadding": 10, "labelFontSize": 13.5, "domainColor": "#333", "title": null}},
   "y": {"field": "c", "type": "quantitative", "scale": {"domain": [1400, 2200], "rangeMin": 159, "rangeMax": 26, "nice": false, "zero": false},
     "axis": {"orient": "left", "offset": -291, "values": [1500, 2000], "format": "d", "ticks": false, "labelPadding": 6, "labelFontSize": 13.5, "domainColor": "#333", "title": null}}}},
 {"data": {"name": "bat"}, "transform": [{"filter": "datum.t <= 125.5"}], "mark": {"type": "line", "color": "#800000", "strokeWidth": 1.2},
  "encoding": {
   "x": {"field": "t", "type": "quantitative", "scale": {"domain": [-50, 300], "rangeMin": 291, "rangeMax": 714, "nice": false, "zero": false},
     "axis": {"orient": "top", "offset": -295, "values": [-25,0,25,50,75,100,125,150,175,200,225,250,275], "labels": false, "ticks": true, "tickSize": 6, "tickColor": "#222", "tickWidth": 1.6, "domain": false, "title": null}},
   "y": {"field": "c", "type": "quantitative", "scale": {"domain": [-50, 615], "rangeMin": 295, "rangeMax": 159, "nice": false, "zero": false},
     "axis": {"orient": "left", "offset": -291, "values": [0, 500], "ticks": false, "labelPadding": 6, "labelFontSize": 13.5, "domainColor": "#333", "title": null}}}},
 {"data": {"name": "bat"}, "transform": [{"filter": "datum.t >= 125.5"}], "mark": {"type": "line", "color": "#800000", "strokeWidth": 1.2},
  "encoding": {
   "x": {"field": "t", "type": "quantitative", "scale": {"domain": [-50, 300], "rangeMin": 291, "rangeMax": 714, "nice": false, "zero": false},
     "axis": {"orient": "bottom", "offset": -763, "values": [-25,0,25,50,75,100,125,150,175,200,225,250,275], "labels": false, "ticks": true, "tickSize": 6, "tickColor": "#222", "tickWidth": 1.6, "domainColor": "#333", "title": null}},
   "y": {"field": "c", "type": "quantitative", "scale": {"domain": [-50, 615], "rangeMin": 295, "rangeMax": 159, "nice": false, "zero": false},
     "axis": {"orient": "right", "offset": -438, "values": [0, 250, 500], "labels": false, "ticks": true, "tickSize": 6, "tickColor": "#222", "tickWidth": 1.6, "domain": false, "title": null}}}},
 {"data": {"name": "xrt"}, "mark": {"type": "line", "strokeWidth": 1.5},
  "encoding": {
   "x": {"field": "t", "type": "quantitative", "scale": {"domain": [-50, 300], "rangeMin": 291, "rangeMax": 714, "nice": false, "zero": false}, "axis": null},
   "y": {"field": "c", "type": "quantitative", "scale": {"domain": [-50, 615], "rangeMin": 295, "rangeMax": 159, "nice": false, "zero": false},
     "axis": {"orient": "left", "offset": -714, "values": [0, 250, 500], "labels": false, "ticks": true, "tickSize": 6, "tickColor": "#222", "tickWidth": 1.6, "domainColor": "#333", "title": null}},
   "color": {"datum": "XRT", "scale": {"domain": ["GBM", "BAT", "XRT"], "range": ["#00ff00", "#800000", "#0000ff"]},
     "legend": {"orient": "none", "legendX": 637, "legendY": 30, "title": null, "symbolType": "stroke", "symbolSize": 484, "symbolStrokeWidth": 1.5, "labelFontSize": 13, "labelOffset": 5, "rowPadding": 1.5}}}},
 {"data": {"name": "brkins"}, "transform": [{"filter": "datum.t < 0"}], "mark": {"type": "text", "text": "//", "fontSize": 13, "angle": 30, "align": "center", "baseline": "middle", "font": "DejaVu Sans", "color": "#000"},
  "encoding": {
   "x": {"field": "t", "type": "quantitative", "scale": {"domain": [-50, 300], "rangeMin": 291, "rangeMax": 714, "nice": false, "zero": false}, "axis": null},
   "y": {"field": "c", "type": "quantitative", "scale": {"domain": [1400, 2200], "rangeMin": 159, "rangeMax": 26, "nice": false, "zero": false},
     "axis": {"orient": "right", "offset": -438, "values": [1500, 1750, 2000], "labels": false, "ticks": true, "tickSize": 6, "tickColor": "#222", "tickWidth": 1.6, "domain": false, "title": null}}}},
 {"data": {"name": "brkins"}, "transform": [{"filter": "datum.t > 0"}], "mark": {"type": "text", "text": "//", "fontSize": 13, "angle": 30, "align": "center", "baseline": "middle", "font": "DejaVu Sans", "color": "#000"},
  "encoding": {
   "x": {"field": "t", "type": "quantitative", "scale": {"domain": [-50, 300], "rangeMin": 291, "rangeMax": 714, "nice": false, "zero": false}, "axis": null},
   "y": {"field": "c", "type": "quantitative", "scale": {"domain": [1400, 2200], "rangeMin": 159, "rangeMax": 26, "nice": false, "zero": false},
     "axis": {"orient": "left", "offset": -714, "values": [1500, 1750, 2000], "labels": false, "ticks": true, "tickSize": 6, "tickColor": "#222", "tickWidth": 1.6, "domainColor": "#333", "title": null}}}},
 {"data": {"name": "vbot"}, "mark": {"type": "rule", "color": "#222", "strokeDash": [7, 5], "strokeWidth": 1},
  "encoding": {
   "x": {"field": "t", "type": "quantitative", "scale": {"type": "log", "domain": [50, 575000], "rangeMin": 80, "rangeMax": 727, "nice": false},
     "axis": {"orient": "top", "offset": -703, "values": [60,70,80,90,200,300,400,500,600,700,800,900,2000,3000,4000,5000,6000,7000,8000,9000,20000,30000,40000,50000,60000,70000,80000,90000,200000,300000,400000,500000], "labels": false, "ticks": true, "tickSize": 7, "tickColor": "#000", "tickWidth": 1.6, "domain": false, "title": null}},
   "y": {"datum": 1e-13, "type": "quantitative", "scale": {"type": "log", "domain": [1e-13, 1e-7], "rangeMin": 703, "rangeMax": 358, "nice": false},
     "axis": {"orient": "right", "offset": -649, "values": [2e-13,3e-13,4e-13,5e-13,6e-13,7e-13,8e-13,9e-13,2e-12,3e-12,4e-12,5e-12,6e-12,7e-12,8e-12,9e-12,2e-11,3e-11,4e-11,5e-11,6e-11,7e-11,8e-11,9e-11,2e-10,3e-10,4e-10,5e-10,6e-10,7e-10,8e-10,9e-10,2e-9,3e-9,4e-9,5e-9,6e-9,7e-9,8e-9,9e-9,2e-8,3e-8,4e-8,5e-8,6e-8,7e-8,8e-8,9e-8], "labels": false, "ticks": true, "tickSize": 6, "tickColor": "#000", "tickWidth": 1.6, "domain": false, "title": null}},
   "y2": {"datum": 1e-7}}},
 {"data": {"name": "lc"}, "mark": {"type": "point", "shape": "cross", "filled": true, "size": 65, "opacity": 1},
  "encoding": {
   "x": {"field": "t", "type": "quantitative", "scale": {"type": "log", "domain": [50, 575000], "rangeMin": 80, "rangeMax": 727, "nice": false},
     "axis": {"orient": "bottom", "offset": -86, "values": [100, 1000, 10000, 100000], "labelExpr": "datum.value == 100 ? '10²' : datum.value == 1000 ? '10³' : datum.value == 10000 ? '10⁴' : '10⁵'", "ticks": false, "labelPadding": 19, "labelFontSize": 18,
       "title": "Time since BAT trigger (s)", "titleX": 393, "titleY": 74, "titleBaseline": "middle", "titleAlign": "center", "titleFontSize": 17.5}},
   "y": {"field": "f", "type": "quantitative", "scale": {"type": "log", "domain": [1e-13, 1e-7], "rangeMin": 703, "rangeMax": 358, "nice": false},
     "axis": {"orient": "left", "offset": -80, "values": [1e-13, 1e-11, 1e-9, 1e-7], "labelExpr": "round(log(datum.value)/LN10) == -13 ? '10⁻¹³' : round(log(datum.value)/LN10) == -11 ? '10⁻¹¹' : round(log(datum.value)/LN10) == -9 ? '10⁻⁹' : '10⁻⁷'", "ticks": false, "labelPadding": 3, "labelFontSize": 18,
       "title": "Flux(erg cm⁻² s⁻¹)", "titleX": -39, "titleY": 540, "titleAngle": -90, "titleAlign": "center", "titleBaseline": "bottom", "titleFontSize": 21}},
   "color": {"field": "s", "type": "nominal", "scale": {"domain": ["R", "X-Ray"], "range": ["#ff0000", "#0000ff"]},
     "legend": {"orient": "none", "legendX": 643, "legendY": 386, "title": null, "symbolType": "circle", "symbolSize": 70, "labelFontSize": 15, "labelOffset": 18, "rowPadding": 17}}}},
 {"data": {"name": "err"}, "mark": {"type": "rule", "strokeWidth": 1.2},
  "encoding": {
   "x": {"field": "t", "type": "quantitative", "scale": {"type": "log", "domain": [50, 575000], "rangeMin": 80, "rangeMax": 727, "nice": false},
     "axis": {"orient": "top", "offset": -703, "values": [100, 1000, 10000, 100000], "labels": false, "ticks": true, "tickSize": 12, "tickColor": "#000", "tickWidth": 1.6, "domain": false, "title": null}},
   "y": {"field": "lo", "type": "quantitative", "scale": {"type": "log", "domain": [1e-13, 1e-7], "rangeMin": 703, "rangeMax": 358, "nice": false},
     "axis": {"orient": "right", "offset": -649, "values": [1e-13, 1e-12, 1e-11, 1e-10, 1e-9, 1e-8, 1e-7], "labels": false, "ticks": true, "tickSize": 11, "tickColor": "#000", "tickWidth": 1.6, "domain": false, "title": null}},
   "y2": {"field": "hi"},
   "color": {"field": "s", "type": "nominal", "scale": {"domain": ["X-Ray", "R", "M"], "range": ["#0000ff", "#ff0000", "#ff00ff"]}, "legend": null}}},
 {"data": {"name": "xerr"}, "mark": {"type": "rule", "strokeWidth": 1.2},
  "encoding": {
   "x": {"field": "tlo", "type": "quantitative", "scale": {"type": "log", "domain": [50, 575000], "rangeMin": 80, "rangeMax": 727, "nice": false},
     "axis": {"orient": "bottom", "offset": -431, "values": [100, 1000, 10000, 100000], "labels": false, "ticks": true, "tickSize": 12, "tickColor": "#000", "tickWidth": 1.6, "domainWidth": 3, "title": null}},
   "x2": {"field": "thi"},
   "y": {"field": "f", "type": "quantitative", "scale": {"type": "log", "domain": [1e-13, 1e-7], "rangeMin": 703, "rangeMax": 358, "nice": false},
     "axis": {"orient": "left", "offset": -727, "values": [1e-13, 1e-12, 1e-11, 1e-10, 1e-9, 1e-8, 1e-7], "labels": false, "ticks": true, "tickSize": 11, "tickColor": "#000", "tickWidth": 1.6, "title": null}},
   "color": {"field": "s", "type": "nominal", "scale": {"domain": ["X-Ray", "R", "M"], "range": ["#0000ff", "#ff0000", "#ff00ff"]}, "legend": null}}},
 {"data": {"name": "mag"}, "mark": {"type": "point", "shape": "circle", "filled": true, "size": 45, "color": "#ff00ff", "opacity": 1},
  "encoding": {
   "x": {"field": "t", "type": "quantitative", "scale": {"type": "log", "domain": [50, 575000], "rangeMin": 80, "rangeMax": 727, "nice": false},
     "axis": {"orient": "bottom", "offset": -431, "values": [60,70,80,90,200,300,400,500,600,700,800,900,2000,3000,4000,5000,6000,7000,8000,9000,20000,30000,40000,50000,60000,70000,80000,90000,200000,300000,400000,500000], "labels": false, "ticks": true, "tickSize": 7, "tickColor": "#000", "tickWidth": 1.6, "domain": false, "title": null}},
   "y": {"field": "f", "type": "quantitative", "scale": {"type": "log", "domain": [1e-13, 1e-7], "rangeMin": 703, "rangeMax": 358, "nice": false},
     "axis": {"orient": "left", "offset": -727, "values": [2e-13,3e-13,4e-13,5e-13,6e-13,7e-13,8e-13,9e-13,2e-12,3e-12,4e-12,5e-12,6e-12,7e-12,8e-12,9e-12,2e-11,3e-11,4e-11,5e-11,6e-11,7e-11,8e-11,9e-11,2e-10,3e-10,4e-10,5e-10,6e-10,7e-10,8e-10,9e-10,2e-9,3e-9,4e-9,5e-9,6e-9,7e-9,8e-9,9e-9,2e-8,3e-8,4e-8,5e-8,6e-8,7e-8,8e-8,9e-8], "labels": false, "ticks": true, "tickSize": 6, "tickColor": "#000", "tickWidth": 1.6, "domain": false, "title": null}}}},
 {"data": {"name": "fit"}, "transform": [{"filter": "datum.m == 'x2' || datum.m == 'o2' || datum.m == 'x1' || datum.m == 'o1'"}], "mark": {"type": "line", "strokeWidth": 2, "strokeDash": [7, 5]},
  "encoding": {
   "x": {"field": "t", "type": "quantitative", "scale": {"type": "log", "domain": [50, 575000], "rangeMin": 80, "rangeMax": 727, "nice": false}, "axis": null},
   "y": {"field": "f", "type": "quantitative", "scale": {"type": "log", "domain": [1e-13, 1e-7], "rangeMin": 703, "rangeMax": 358, "nice": false}, "axis": null},
   "detail": {"field": "m"},
   "color": {"field": "m", "type": "nominal", "scale": {"domain": ["x2", "o2", "x1", "o1"], "range": ["#111111", "#111111", "#8a2be2", "#8a2be2"]}, "legend": null}}},
 {"data": {"name": "fit"}, "transform": [{"filter": "datum.m == 'opt'"}], "mark": {"type": "line", "strokeWidth": 2, "color": "#000"},
  "encoding": {
   "x": {"field": "t", "type": "quantitative", "scale": {"type": "log", "domain": [50, 575000], "rangeMin": 80, "rangeMax": 727, "nice": false}, "axis": null},
   "y": {"field": "f", "type": "quantitative", "scale": {"type": "log", "domain": [1e-13, 1e-7], "rangeMin": 703, "rangeMax": 358, "nice": false}, "axis": null}}},
 {"data": {"name": "fit"}, "transform": [{"filter": "datum.m == 'tot'"}], "mark": {"type": "line", "strokeWidth": 2.5, "color": "#ff0000", "interpolate": "monotone"},
  "encoding": {
   "x": {"field": "t", "type": "quantitative", "scale": {"type": "log", "domain": [50, 575000], "rangeMin": 80, "rangeMax": 727, "nice": false}, "axis": null},
   "y": {"field": "f", "type": "quantitative", "scale": {"type": "log", "domain": [1e-13, 1e-7], "rangeMin": 703, "rangeMax": 358, "nice": false}, "axis": null}}},
 {"data": {"name": "slices"}, "mark": {"type": "text", "align": "left", "baseline": "middle", "fontSize": 14.5, "color": "#222", "font": "Liberation Sans, Arial, sans-serif"},
  "encoding": {
   "x": {"field": "t", "type": "quantitative", "scale": {"type": "log", "domain": [50, 575000], "rangeMin": 80, "rangeMax": 727, "nice": false}, "axis": null},
   "y": {"field": "f", "type": "quantitative", "scale": {"type": "log", "domain": [1e-13, 1e-7], "rangeMin": 703, "rangeMax": 358, "nice": false}, "axis": null},
   "text": {"field": "txt"}}},
 {"data": {"name": "emp"}, "mark": {"type": "text", "align": "left", "baseline": "alphabetic", "fontSize": 39.5, "color": "#1fb0e6", "font": "Liberation Serif, Times New Roman, serif"},
  "encoding": {
   "x": {"field": "t", "type": "quantitative", "scale": {"type": "log", "domain": [50, 575000], "rangeMin": 80, "rangeMax": 727, "nice": false}, "axis": null},
   "y": {"field": "f", "type": "quantitative", "scale": {"type": "log", "domain": [1e-13, 1e-7], "rangeMin": 703, "rangeMax": 358, "nice": false}, "axis": null},
   "text": {"field": "txt"}}}
]
}
